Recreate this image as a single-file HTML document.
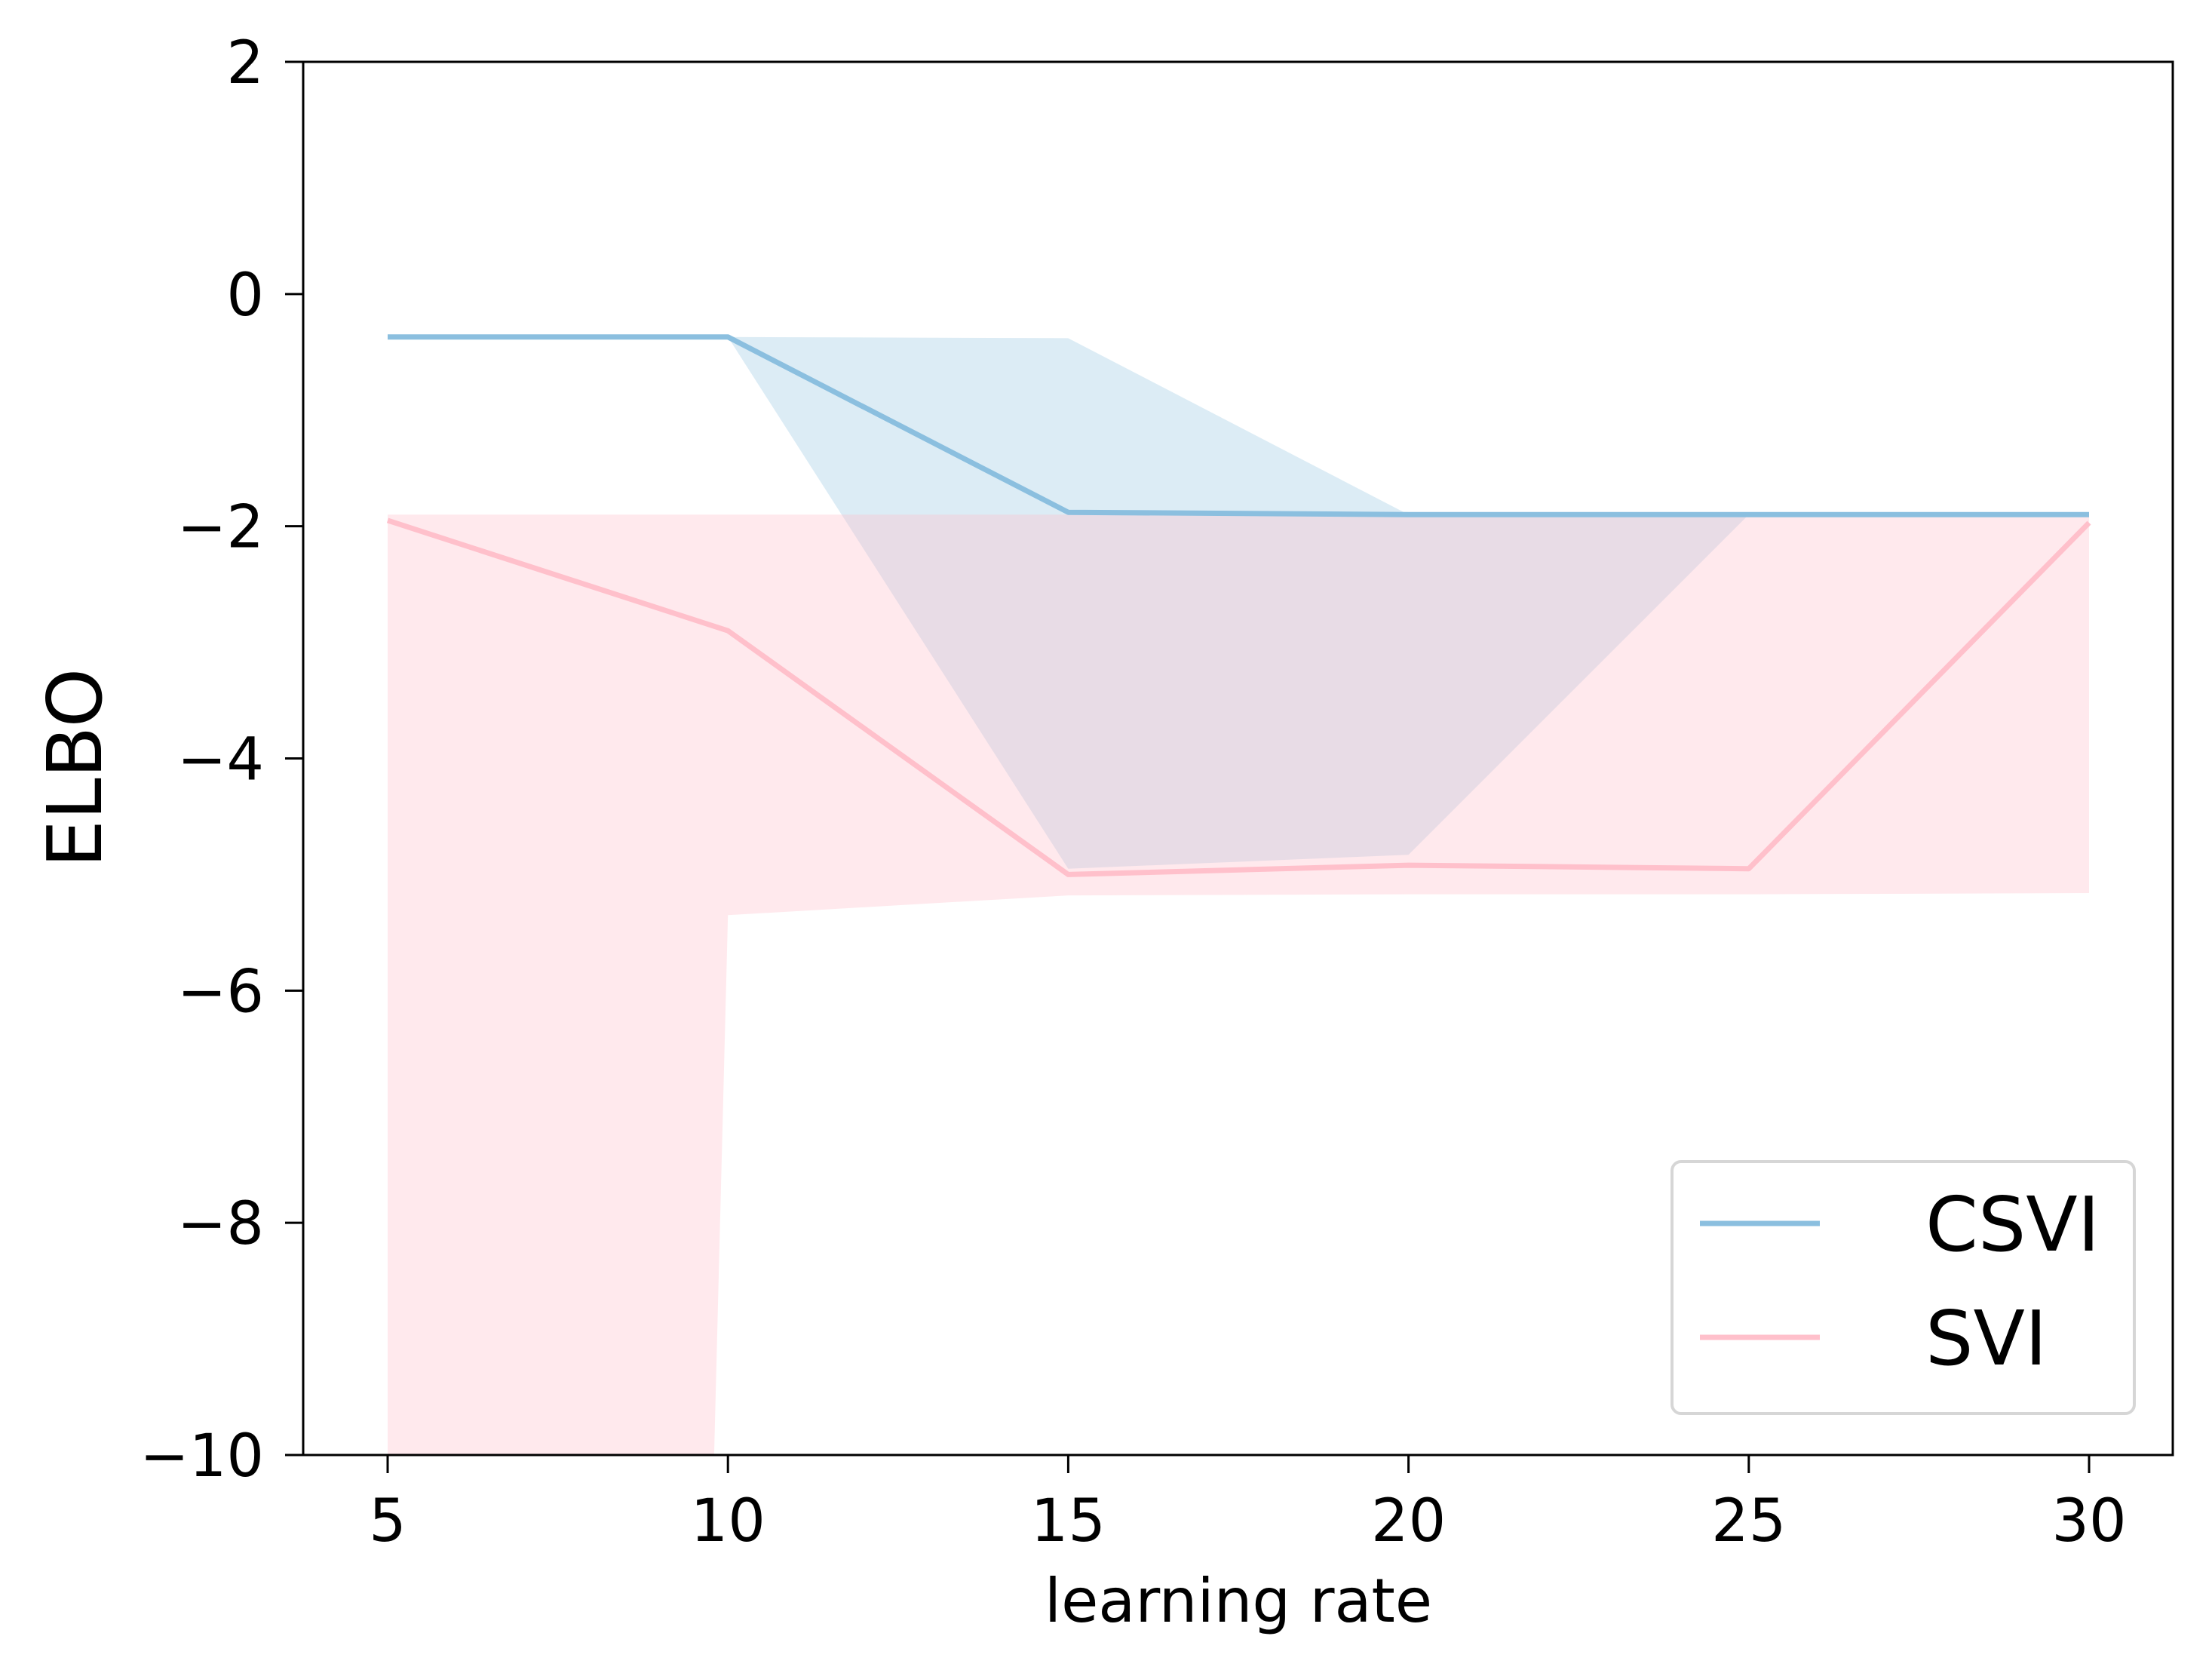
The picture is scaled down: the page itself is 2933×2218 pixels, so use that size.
<!DOCTYPE html>
<html><head><meta charset="utf-8"><style>
html,body{margin:0;padding:0;background:#fff;width:2933px;height:2218px;overflow:hidden}
svg{display:block}
svg text{font-family:"DejaVu Sans","Liberation Sans",sans-serif;fill:#000}
</style></head><body>
<svg id="chart" width="2933" height="2218" viewBox="0 0 2933 2218" xmlns="http://www.w3.org/2000/svg">
<defs><clipPath id="plotclip"><rect x="402" y="82" width="2479" height="1847"/></clipPath></defs>
<g id="fills" clip-path="url(#plotclip)"></g>
<g id="lines" clip-path="url(#plotclip)"></g>
<rect x="402" y="82" width="2479" height="1847" fill="none" stroke="#000" stroke-width="3"/>
<g id="axes"></g>
<text x="1642" y="2150" font-size="80" text-anchor="middle">learning rate</text>
<text x="0" y="0" font-size="100" text-anchor="middle" transform="translate(134,1018) rotate(-90)">ELBO</text>
<g>
<rect x="2217" y="1540" width="613" height="334" rx="12" fill="#fff" fill-opacity="0.8" stroke="#d6d6d6" stroke-width="4"/>
<line x1="2254" y1="1622" x2="2413" y2="1622" stroke="#8bbfdf" stroke-width="7"/>
<text x="2553" y="1658" font-size="100">CSVI</text>
<line x1="2254" y1="1773" x2="2413" y2="1773" stroke="#ffc0cb" stroke-width="7"/>
<text x="2553" y="1809" font-size="100">SVI</text>
</g>
</svg>
<script>
const lr = [5, 10, 15, 20, 25, 30];
const csviMean = [-0.37, -0.37, -1.88, -1.9, -1.9, -1.9];
const csviUpper = [-0.37, -0.37, -0.38, -1.9, -1.9, -1.9];
const csviLower = [-0.37, -0.37, -4.95, -4.83, -1.9, -1.9];
const sviMean = [-1.95, -2.9, -5.0, -4.92, -4.95, -1.97];
const sviUpper = [-1.9, -1.9, -1.9, -1.9, -1.9, -1.9];
const sviLower = [-120, -5.35, -5.18, -5.17, -5.17, -5.16];
const xTicks = [5, 10, 15, 20, 25, 30];
const yTicks = [2, 0, -2, -4, -6, -8, -10];
const yTickLabels = ["2", "0", "\u22122", "\u22124", "\u22126", "\u22128", "\u221210"];

const NS = "http://www.w3.org/2000/svg";
function xs(v){ return 514 + (v - 5) * (2770 - 514) / 25; }
function ys(v){ return 82 + (2 - v) * (1929 - 82) / 12; }
function mk(tag, attrs){ const e = document.createElementNS(NS, tag); for (const k in attrs) e.setAttribute(k, attrs[k]); return e; }

const fills = document.getElementById('fills');
const lines = document.getElementById('lines');
const axes = document.getElementById('axes');

function band(up, lo, color, op, name){
  let d = up.map((v,i)=>(i?'L':'M')+xs(lr[i])+','+ys(v)).join(' ');
  for (let i = lo.length-1; i >= 0; i--) d += ' L'+xs(lr[i])+','+ys(lo[i]);
  const p = mk('path', {d: d+' Z', fill: color, 'fill-opacity': op, stroke: 'none'});
  
  
  fills.appendChild(p);
}
function line(vals, color, name){
  const p = mk('polyline', {points: vals.map((v,i)=>xs(lr[i])+','+ys(v)).join(' '), fill: 'none', stroke: color, 'stroke-width': 7, 'stroke-linejoin': 'round'});
  
  
  lines.appendChild(p);
}
band(csviUpper, csviLower, '#8bbfdf', 0.3, 'csvi-band');
band(sviUpper, sviLower, '#ffc0cb', 0.35, 'svi-band');
line(csviMean, '#8bbfdf', 'csvi-line');
line(sviMean, '#ffc0cb', 'svi-line');

xTicks.forEach(t=>{
  const x = xs(t);
  const tk = mk('line', {x1:x, y1:1929, x2:x, y2:1953, stroke:'#000', 'stroke-width':3});
  
  
  axes.appendChild(tk);
  const tx = mk('text', {x:x, y:2043, 'font-size':78, 'text-anchor':'middle'});
  
  
  tx.textContent = String(t);
  axes.appendChild(tx);
});
yTicks.forEach((t,i)=>{
  const y = ys(t);
  const tk = mk('line', {x1:378, y1:y, x2:402, y2:y, stroke:'#000', 'stroke-width':3});
  
  
  axes.appendChild(tk);
  const tx = mk('text', {x:350, y:y+28, 'font-size':78, 'text-anchor':'end'});
  
  
  tx.textContent = yTickLabels[i];
  axes.appendChild(tx);
});
</script>
</body></html>
